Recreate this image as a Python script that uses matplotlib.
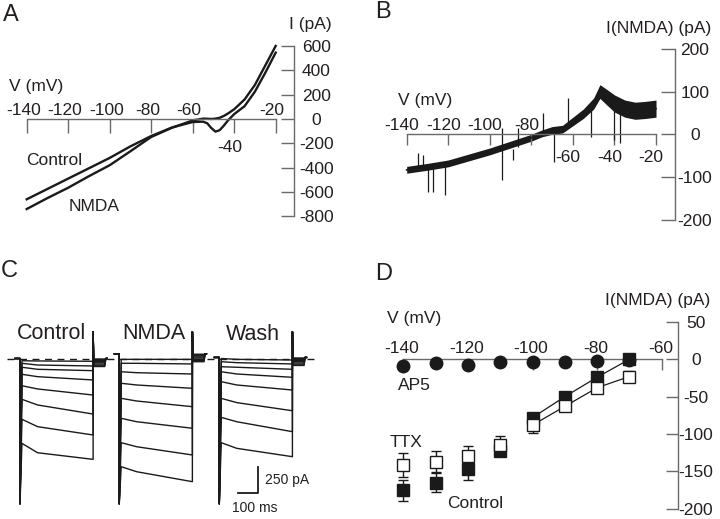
import matplotlib
matplotlib.use('Agg')
import matplotlib.pyplot as plt

plt.rcParams['font.family'] = ['Liberation Sans', 'DejaVu Sans']
plt.rcParams['axes.unicode_minus'] = False

INK = '#231f20'
AXC = '#6a6a6a'
TRACE = '#1a1a1a'

# ---- A: ramp I-V, whole-cell current (pA) vs V (mV)
a_v = [-140, -130, -120, -110, -100, -90, -80, -70, -60, -55, -53, -51, -49, -47, -45, -43,
       -40, -35, -30, -25, -20]
a_control = [-660, -575, -490, -405, -320, -225, -140, -70, -25, -22, -35, -75, -104, -92, -55, -12,
             40, 105, 225, 380, 545]
a_nmda = [-740, -650, -565, -470, -380, -265, -148, -72, -12, 3, 2, 0, 3, 10, 25, 45,
          80, 160, 280, 440, 600]
a_yticks = [-800, -600, -400, -200, 0, 200, 400, 600]
a_xticks = [-140, -120, -100, -80, -60, -40, -20]
a_labels_up = [-140, -120, -100, -80, -60, -20]
a_labels_down = [-40]

# ---- B: NMDA-induced current (NMDA - Control), noisy band
b_v = [-140, -130, -120, -110, -100, -90, -80, -75, -70, -65, -60, -55, -50, -47, -44, -40, -35, -30, -25, -20]
b_mid = [-83, -76, -68, -54, -40, -24, -8, 2, 9, 12, 30, 48, 72, 100, 88, 72, 60, 55, 57, 60]
b_half = [8, 8, 8, 8, 8, 8, 8, 8, 9, 9, 10, 11, 13, 16, 18, 20, 20, 20, 20, 20]
b_spike_v = [-134.4, -132.0, -129.6, -127.2, -121.6, -94.3, -88.7, -86.3, -74.3, -69.0, -62.2, -51.3, -40.1, -37.4]
b_spike_lo = [-80, -80, -134, -134, -142, -107, -60, -30, 0, -64, 20, -6, -14, -21]
b_spike_hi = [-44, -48, -80, -80, -70, 14, -35, 14, 49, 5, 84, 60, 60, 60]
b_yticks = [-200, -100, 0, 100, 200]
b_labels_up = [-140, -120, -100, -80]
b_labels_down = [-60, -40, -20]

# ---- C: voltage-step current traces (pA): level just after onset, at ~90 ms, at step end
ctrl_hold = 0
ctrl_start = [-21, -45, -82, -148, -255, -382, -569, -794]
ctrl_knee = [-23, -61, -101, -170, -285, -435, -638, -882]
ctrl_end = [-26, -70, -114, -201, -342, -520, -716, -944]
nmda_hold = 45
nmda_start = [-8, -45, -124, -232, -373, -560, -788, -1013]
nmda_knee = [-8, -45, -133, -248, -398, -592, -826, -1060]
nmda_end = [-8, -51, -145, -279, -451, -653, -903, -1153]
wash_hold = 10
wash_start = [0, -30, -77, -124, -217, -373, -551, -788]
wash_knee = [-8, -39, -82, -145, -248, -413, -592, -841]
wash_end = [-14, -51, -101, -176, -295, -489, -685, -919]
tail_pa = [-5, -12, -20, -30, -40, -52, -63, -75]
transient_peak = -1360
offset_spike = 250
step_ms = 375
bar_ms, bar_pa = 100, 250

# ---- D: I(NMDA) vs V, mean +/- SEM
d_v = [-140, -130, -120, -110, -100, -90, -80, -70]
d_ap5 = [-9, -5, -8, -3, -3, -3, -2, -1]
d_control = [-175, -165, -147, -123, -78, -50, -24, 0]
d_control_err = [14, 13, 14, 5, 4, 4, 6, 4]
d_ttx = [-142, -137, -130, -115, -88, -63, -38, -23]
d_ttx_err = [16, 14, 14, 13, 10, 3, 3, 7]
d_yticks = [-200, -150, -100, -50, 0, 50]
d_labels_up = [-140, -120, -100, -80, -60]

W, H = 720, 519
fig = plt.figure(figsize=(7.2, 5.19), dpi=100)


def px_axes(l, t, r, b):
    return fig.add_axes([l / W, 1 - b / H, (r - l) / W, (b - t) / H])


def px_text(x, y, s, size=12.5, ha='center', va='center'):
    fig.text(x / W, 1 - y / H, s, fontsize=size, color=INK, ha=ha, va=va)


def iv_axes(ax, xb, yb, yspine, xticks, yticks, xlen, ylen, ypad):
    ax.patch.set_visible(False)
    ax.spines['top'].set_visible(False)
    ax.spines['left'].set_visible(False)
    ax.spines['bottom'].set_position(('data', 0))
    ax.spines['bottom'].set_bounds(*xb)
    ax.spines['right'].set_position(('data', yspine))
    ax.spines['right'].set_bounds(*yb)
    for s in ['bottom', 'right']:
        ax.spines[s].set_color(AXC)
        ax.spines[s].set_linewidth(1.0)
    ax.xaxis.set_ticks_position('bottom')
    ax.yaxis.set_ticks_position('right')
    ax.set_xticks(xticks)
    ax.tick_params(axis='x', labelbottom=False, direction='out', length=xlen,
                   width=1.0, color=AXC)
    ax.set_yticks(yticks, labels=[str(v) for v in yticks])
    ax.tick_params(axis='y', direction='in', length=ylen, width=1.0, color=AXC,
                   pad=ypad, labelsize=12.5, labelcolor=INK)
    for lab in ax.get_yticklabels():
        lab.set_horizontalalignment('center')


def x_labels(ax, values, dx, dy):
    for v in values:
        ax.annotate(str(v), xy=(v, 0), xytext=(dx, dy), textcoords='offset points',
                    ha='center', va='baseline', fontsize=12.5, color=INK)


# ---------------- A
ax_a = px_axes(5.95, 33.8, 306.8, 228.5)
ax_a.set_xlim(-150, -5)
ax_a.set_ylim(-900, 700)
iv_axes(ax_a, (-140, -20), (-800, 600), -11, a_xticks, a_yticks, 10, 9.4, 15.8)
ax_a.plot(a_v, a_control, color=TRACE, lw=1.7)
ax_a.plot(a_v, a_nmda, color=TRACE, lw=1.7)
x_labels(ax_a, a_labels_up, -2.5, 2.9)
x_labels(ax_a, a_labels_down, -3, -23.5)
px_text(11, 14.7, 'A', size=17)
px_text(310, 24.5, 'I (pA)')
px_text(36, 86.7, 'V (mV)')
px_text(54, 160.3, 'Control')
px_text(94.5, 206, 'NMDA')

# ---------------- B
ax_b = px_axes(385.9, 31.6, 687.2, 237)
ax_b.set_xlim(-150, -5)
ax_b.set_ylim(-240, 240)
iv_axes(ax_b, (-140, -20), (-200, 200), -11, a_xticks, b_yticks, 8, 10, 14.4)
b_lo = [m - h for m, h in zip(b_mid, b_half)]
b_hi = [m + h for m, h in zip(b_mid, b_half)]
ax_b.fill_between(b_v, b_lo, b_hi, color=TRACE, lw=0)
ax_b.plot(b_v, b_mid, color=TRACE, lw=1.2)
ax_b.vlines(b_spike_v, b_spike_lo, b_spike_hi, color=TRACE, lw=0.9)
x_labels(ax_b, b_labels_up, -3.5, 3.1)
x_labels(ax_b, b_labels_down, -3.5, -19.7)
px_text(383.3, 11.7, 'B', size=17)
px_text(659, 28.3, 'I(NMDA) (pA)')
px_text(425, 100, 'V (mV)')

# ---------------- C
ax_c = px_axes(0, 300, 360, 519)
ax_c.set_xlim(-102.56, 1743.6)
ax_c.set_ylim(-1502.3, 547.6)
ax_c.axis('off')
group_t0 = [0, 509, 1022]
groups = [(ctrl_hold, ctrl_start, ctrl_knee, ctrl_end),
          (nmda_hold, nmda_start, nmda_knee, nmda_end),
          (wash_hold, wash_start, wash_knee, wash_end)]
ax_c.hlines(0, -65, 1520, colors=TRACE, lw=1.0, linestyles=(0, (5, 4)))
for t0, (hold, st, kn, en) in zip(group_t0, groups):
    for s, k, e, tl in zip(st, kn, en, tail_pa):
        t = [t0 - 25, t0, t0, t0 + 10, t0 + 90, t0 + step_ms, t0 + step_ms,
             t0 + step_ms + 3, t0 + step_ms + 60, t0 + step_ms + 65, t0 + step_ms + 72]
        i = [hold, hold, transient_peak, s, k, e, offset_spike, hold + tl, hold + tl, hold, hold]
        ax_c.plot(t, i, color=TRACE, lw=1.0)
sb_t, sb_i = 1220, -1262
ax_c.plot([sb_t - bar_ms, sb_t, sb_t], [sb_i, sb_i, sb_i + bar_pa], color=TRACE, lw=1.3)
px_text(9.2, 271, 'C', size=17)
px_text(51, 333.3, 'Control', size=15.5)
px_text(154.2, 333.3, 'NMDA', size=15.5)
px_text(252.5, 334, 'Wash', size=15.5)
px_text(265, 480, '250 pA', size=10, ha='left')
px_text(254.5, 507.5, '100 ms', size=10)

# ---------------- D
ax_d = px_axes(380.7, 314.5, 694, 512.5)
ax_d.set_xlim(-147, -50)
ax_d.set_ylim(-205, 60)
iv_axes(ax_d, (-140, -60), (-200, 50), -55, d_labels_up, d_yticks, 8, 8.6, 13)
ax_d.plot(d_v[4:], d_control[4:], color=TRACE, lw=0.9, zorder=3)
ax_d.plot(d_v[4:], d_ttx[4:], color=TRACE, lw=0.9, zorder=3)
ax_d.errorbar(d_v, d_control, yerr=d_control_err, fmt='s', ms=8.5, mfc=TRACE, mec=TRACE,
              ecolor=TRACE, elinewidth=1, capsize=3.6, capthick=1, zorder=4)
ax_d.errorbar(d_v, d_ttx, yerr=d_ttx_err, fmt='s', ms=8.5, mfc='white', mec=TRACE, mew=1,
              ecolor=TRACE, elinewidth=1, capsize=3.6, capthick=1, zorder=5)
ax_d.plot(d_v, d_ap5, 'o', ms=9, color=TRACE, zorder=6)
x_labels(ax_d, d_labels_up, -1, 4.8)
px_text(384, 274, 'D', size=17)
px_text(658, 301, 'I(NMDA) (pA)')
px_text(414, 318, 'V (mV)')
px_text(414, 385, 'AP5')
px_text(406, 442.5, 'TTX')
px_text(475, 503, 'Control')

fig.savefig('out.png', dpi=100)
